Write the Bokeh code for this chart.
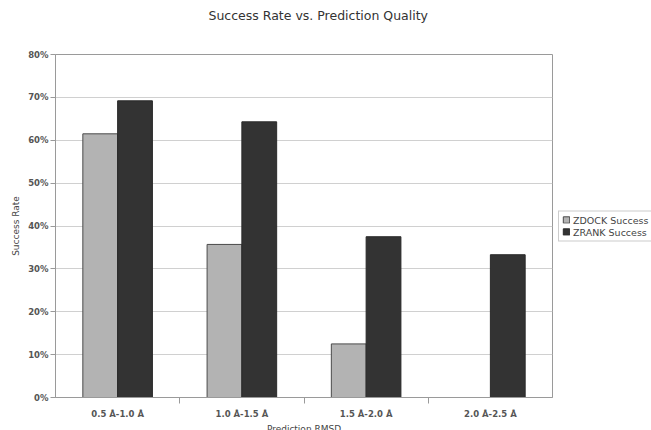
from bokeh.plotting import figure
from bokeh.models import (ColumnDataSource, Range1d, FixedTicker, PrintfTickFormatter,
                          Title, LinearAxis)
from bokeh.transform import dodge
from bokeh.embed import file_html
from bokeh.resources import INLINE

# Success rate (%) per prediction RMSD bin
categories = ["0.5 Å-1.0 Å", "1.0 Å-1.5 Å", "1.5 Å-2.0 Å", "2.0 Å-2.5 Å"]
zdock_success = [61.5, 35.7, 12.5, 0.0]
zrank_success = [69.2, 64.3, 37.5, 33.3]
y_ticks = [0, 10, 20, 30, 40, 50, 60, 70, 80]

FONT = "DejaVu Sans"
centers = [i + 0.5 for i in range(len(categories))]
bounds = [i for i in range(1, len(categories))]

src = ColumnDataSource(dict(x=centers, zdock=zdock_success, zrank=zrank_success))

p = figure(frame_width=497, frame_height=343, output_backend="svg", toolbar_location=None,
           x_range=Range1d(0, len(categories)), y_range=Range1d(0, 80),
           min_border_left=55, min_border_right=0, min_border_top=53,
           min_border_bottom=34, x_axis_type=None)
p.background_fill_color = "white"
p.border_fill_color = "white"
p.outline_line_color = "#9a9a9a"
p.outline_line_width = 1

bw = 0.28
p.vbar(x=dodge("x", -bw / 2), top="zdock", width=bw, source=src,
       fill_color="#b3b3b3", line_color="#4a4a4a", line_width=1,
       legend_label="ZDOCK Success")
p.vbar(x=dodge("x", bw / 2), top="zrank", width=bw, source=src,
       fill_color="#333333", line_color="#2a2a2a", line_width=1,
       legend_label="ZRANK Success")

# x axis: category labels at centers, tick marks at category boundaries
xaxis = LinearAxis(ticker=FixedTicker(ticks=centers, minor_ticks=bounds),
                   major_label_overrides={c: lab for c, lab in zip(centers, categories)})
xaxis.major_tick_line_color = None
xaxis.major_tick_out = 0
xaxis.major_tick_in = 0
xaxis.minor_tick_out = 6
xaxis.minor_tick_in = 0
xaxis.minor_tick_line_color = "#9a9a9a"
xaxis.axis_line_color = "#9a9a9a"
xaxis.major_label_standoff = 5
xaxis.major_label_text_font = FONT
xaxis.major_label_text_font_size = "8.5px"
xaxis.major_label_text_font_style = "bold"
xaxis.major_label_text_color = "#555555"
xaxis.axis_label = "Prediction RMSD"
xaxis.axis_label_text_font = FONT
xaxis.axis_label_text_font_size = "9px"
xaxis.axis_label_text_font_style = "normal"
xaxis.axis_label_text_color = "#444444"
xaxis.axis_label_standoff = 2
p.add_layout(xaxis, "below")

yaxis = p.yaxis[0]
yaxis.ticker = FixedTicker(ticks=y_ticks)
yaxis.formatter = PrintfTickFormatter(format="%d%%")
yaxis.minor_tick_line_color = None
yaxis.major_tick_out = 5
yaxis.major_tick_in = 0
yaxis.major_tick_line_color = "#9a9a9a"
yaxis.axis_line_color = "#9a9a9a"
yaxis.major_label_standoff = 2
yaxis.major_label_text_font = FONT
yaxis.major_label_text_font_size = "8.5px"
yaxis.major_label_text_font_style = "bold"
yaxis.major_label_text_color = "#555555"
yaxis.axis_label = "Success Rate"
yaxis.axis_label_text_font = FONT
yaxis.axis_label_text_font_size = "9px"
yaxis.axis_label_text_font_style = "normal"
yaxis.axis_label_text_color = "#444444"
yaxis.axis_label_standoff = 4

p.xgrid.grid_line_color = None
p.ygrid.grid_line_color = "#d0d0d0"
p.ygrid.ticker = FixedTicker(ticks=y_ticks)

# legend in the right-hand panel
leg = p.legend[0]
leg.location = "center_left"
leg.margin = 6
leg.padding = 3
leg.spacing = 1
leg.glyph_width = 8
leg.glyph_height = 8
leg.label_standoff = 3
leg.label_text_font = FONT
leg.label_text_font_size = "9.5px"
leg.label_text_color = "#444444"
leg.label_height = 10
leg.border_line_color = "#9a9a9a"
leg.border_line_width = 1
leg.background_fill_color = "white"
p.add_layout(leg, "right")

# empty spacer panel lifts the chart title away from the frame
p.add_layout(Title(text=" ", text_font_size="22px", standoff=0), "above")
p.add_layout(Title(text="Success Rate vs. Prediction Quality", align="left",
                   offset=153, text_font=FONT, text_font_size="12.5px",
                   text_font_style="normal", text_color="#333333"), "above")

open("out.html", "w").write(file_html(p, INLINE))
